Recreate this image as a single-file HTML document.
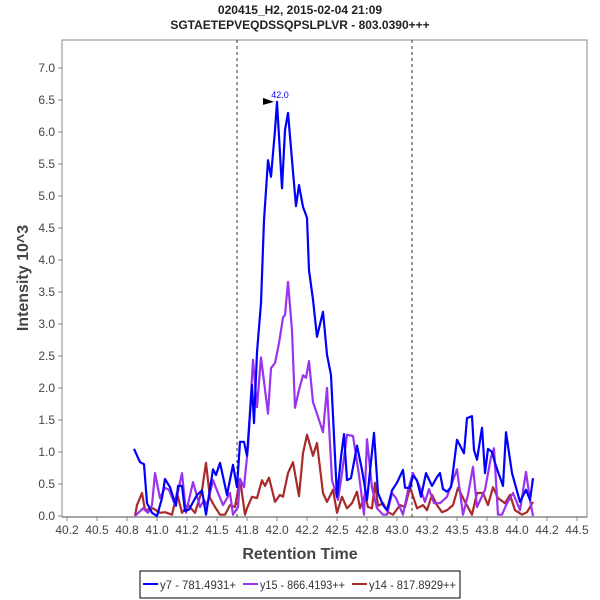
<!DOCTYPE html>
<html><head><meta charset="utf-8"><style>
body{margin:0;background:#fff;}
svg{display:block;font-family:"Liberation Sans",sans-serif;}
</style></head><body>
<svg id="chart" width="600" height="600">
<text x="300" y="14" text-anchor="middle" font-size="12" font-weight="bold" fill="#222">020415_H2, 2015-02-04 21:09</text>
<text x="300" y="29" text-anchor="middle" font-size="12" font-weight="bold" fill="#222">SGTAETEPVEQDSSQPSLPLVR - 803.0390+++</text>
<rect x="62" y="40" width="525" height="477" fill="#fff" stroke="#888"/>
<g id="axes"></g>
<g id="series"></g>
<text x="300" y="559" text-anchor="middle" font-size="16" font-weight="bold" fill="#444">Retention Time</text>
<text transform="translate(28,278) rotate(-90)" text-anchor="middle" font-size="16" font-weight="bold" fill="#444">Intensity 10^3</text>
<g>
<rect x="140" y="571" width="320" height="27" fill="#fff" stroke="#000" stroke-width="1"/>
<g><line x1="143" y1="584" x2="158" y2="584" stroke="#0000ff" stroke-width="2"/><text x="160" y="589" font-size="12" fill="#333" textLength="76" lengthAdjust="spacingAndGlyphs">y7 - 781.4931+</text></g>
<g><line x1="243" y1="584" x2="258" y2="584" stroke="#9933ee" stroke-width="2"/><text x="260" y="589" font-size="12" fill="#333" textLength="85" lengthAdjust="spacingAndGlyphs">y15 - 866.4193++</text></g>
<g><line x1="352" y1="584" x2="367" y2="584" stroke="#aa2a2a" stroke-width="2"/><text x="369" y="589" font-size="12" fill="#333" textLength="87" lengthAdjust="spacingAndGlyphs">y14 - 817.8929++</text></g>
</g>
</svg>
<script>
const xTicks=[40.25,40.5,40.75,41.0,41.25,41.5,41.75,42.0,42.25,42.5,42.75,43.0,43.25,43.5,43.75,44.0,44.25,44.5];
const xTickLabels=["40.2","40.5","40.8","41.0","41.2","41.5","41.8","42.0","42.2","42.5","42.8","43.0","43.2","43.5","43.8","44.0","44.2","44.5"];
const yTicks=[0,0.5,1,1.5,2,2.5,3,3.5,4,4.5,5,5.5,6,6.5,7];
const yTickLabels=["0.0","0.5","1.0","1.5","2.0","2.5","3.0","3.5","4.0","4.5","5.0","5.5","6.0","6.5","7.0"];
const boundaryTimes=[41.667,43.125];
const peakTime=42.0;
const peakLabel="42.0";
const y7Times=[40.808,40.858,40.892,40.917,40.958,41.0,41.042,41.067,41.108,41.158,41.175,41.208,41.233,41.267,41.333,41.375,41.408,41.467,41.492,41.525,41.583,41.633,41.667,41.692,41.725,41.75,41.792,41.808,41.833,41.867,41.892,41.925,41.95,41.983,42.0,42.042,42.067,42.092,42.133,42.158,42.183,42.217,42.25,42.267,42.3,42.333,42.383,42.417,42.45,42.5,42.533,42.558,42.583,42.617,42.667,42.708,42.75,42.808,42.842,42.883,42.917,42.958,43.0,43.05,43.067,43.108,43.133,43.167,43.2,43.242,43.292,43.333,43.358,43.383,43.417,43.45,43.5,43.558,43.583,43.625,43.642,43.667,43.708,43.733,43.758,43.792,43.817,43.842,43.883,43.908,43.958,44.025,44.075,44.108,44.133];
const y7Values=[1.05,0.84,0.81,0.2,0.05,0.0,0.28,0.58,0.45,0.16,0.47,0.47,0.08,0.1,0.33,0.4,0.02,0.73,0.64,0.83,0.33,0.8,0.45,1.16,1.16,0.94,2.05,1.45,2.56,3.33,4.62,5.56,5.3,6.03,6.47,5.12,6.03,6.3,5.38,4.84,5.17,4.83,4.66,3.84,3.38,2.8,3.19,2.52,2.2,0.3,0.92,1.28,0.56,0.59,1.1,0.72,0.25,1.3,0.36,0.17,0.09,0.4,0.52,0.72,0.44,0.44,0.63,0.56,0.3,0.67,0.47,0.61,0.67,0.42,0.38,0.45,1.19,0.98,1.53,1.56,1.03,0.88,1.38,0.67,1.05,1.0,0.83,0.69,0.47,1.31,0.67,0.22,0.41,0.25,0.59];
const y15Times=[40.817,40.883,40.925,40.958,40.983,41.025,41.067,41.1,41.15,41.208,41.242,41.3,41.358,41.392,41.417,41.467,41.508,41.55,41.608,41.633,41.675,41.692,41.725,41.758,41.8,41.833,41.867,41.925,41.95,41.983,42.017,42.05,42.067,42.092,42.125,42.15,42.183,42.217,42.242,42.267,42.3,42.342,42.383,42.417,42.458,42.508,42.542,42.583,42.633,42.683,42.725,42.75,42.792,42.833,42.883,42.917,42.958,42.992,43.05,43.092,43.133,43.183,43.233,43.267,43.308,43.358,43.417,43.467,43.5,43.55,43.592,43.633,43.667,43.733,43.783,43.808,43.842,43.875,43.917,43.967,44.025,44.075,44.108,44.133];
const y15Values=[0.0,0.12,0.05,0.17,0.67,0.28,0.44,0.41,0.17,0.67,0.05,0.53,0.14,0.25,0.17,0.56,0.36,0.17,0.36,0.02,0.14,0.58,0.45,1.08,2.44,1.7,2.48,1.6,2.31,2.39,2.7,3.1,3.14,3.66,2.9,1.69,1.97,2.2,2.16,2.42,1.78,1.55,1.31,2.0,0.56,0.25,0.67,1.27,1.25,0.64,0.02,1.2,0.44,0.12,0.02,0.02,0.36,0.28,0.02,0.41,0.67,0.48,0.22,0.42,0.2,0.2,0.3,0.56,0.73,0.02,0.33,0.77,0.14,0.41,0.92,1.06,0.02,0.02,0.2,0.36,0.09,0.69,0.25,0.0];
const y14Times=[40.817,40.833,40.875,40.9,40.967,41.025,41.067,41.125,41.167,41.208,41.258,41.317,41.375,41.408,41.442,41.483,41.525,41.567,41.608,41.65,41.692,41.733,41.75,41.792,41.833,41.875,41.9,41.933,41.983,42.025,42.05,42.092,42.133,42.183,42.217,42.25,42.3,42.333,42.383,42.417,42.467,42.5,42.542,42.583,42.625,42.667,42.692,42.733,42.758,42.792,42.817,42.842,42.883,42.925,42.967,43.025,43.067,43.108,43.167,43.217,43.25,43.292,43.333,43.375,43.417,43.467,43.508,43.567,43.625,43.667,43.717,43.758,43.8,43.842,43.9,43.942,43.983,44.042,44.083,44.133];
const y14Values=[0,0.17,0.36,0.09,0.12,0.05,0.06,0.02,0.36,0.05,0.17,0.05,0.4,0.83,0.28,0.14,0.02,0.02,0.17,0.14,0.58,0.02,0.12,0.3,0.28,0.56,0.47,0.6,0.22,0.33,0.3,0.67,0.84,0.31,0.98,1.27,0.94,1.14,0.36,0.22,0.41,0.05,0.3,0.12,0.2,0.38,0.12,0.33,0.14,0.12,0.52,0.16,0.2,0.06,0.02,0.17,0.14,0.45,0.12,0.17,0.09,0.33,0.17,0.06,0.09,0.17,0.44,0.22,0.02,0.36,0.36,0.17,0.45,0.28,0.2,0.33,0.09,0.02,0.06,0.22];

const NS="http://www.w3.org/2000/svg";
function xs(t){return 67+(t-40.25)*120;}
function ys(v){return 516-v*64;}
function mk(tag,attrs,parent){const e=document.createElementNS(NS,tag);for(const k in attrs)e.setAttribute(k,attrs[k]);parent.appendChild(e);return e;}
const axes=document.getElementById('axes');
const xAxis=mk('line',{x1:62,y1:517,x2:587,y2:517,stroke:'#888','stroke-width':1.5},axes);


const yAxis=mk('line',{x1:62,y1:40,x2:62,y2:517,stroke:'#888','stroke-width':1},axes);


xTicks.forEach((t,i)=>{
  const x=xs(t);
  mk('line',{x1:x,y1:517,x2:x,y2:521,stroke:'#888'},axes);
  const tx=mk('text',{x:x,y:534,'text-anchor':'middle','font-size':12,fill:'#444'},axes);
  tx.textContent=xTickLabels[i];
  
  
});
yTicks.forEach((v,i)=>{
  const y=ys(v);
  mk('line',{x1:58,y1:y,x2:62,y2:y,stroke:'#888'},axes);
  const tx=mk('text',{x:55,y:y+4,'text-anchor':'end','font-size':12,fill:'#444'},axes);
  tx.textContent=yTickLabels[i];
  
  
});
boundaryTimes.forEach(t=>{
  const l=mk('line',{x1:xs(t),y1:40,x2:xs(t),y2:517,stroke:'#333','stroke-dasharray':'3,3'},axes);
  
  
});
const ser=document.getElementById('series');
function draw(times,vals,color,name){
  const pts=times.map((t,i)=>xs(t).toFixed(1)+','+ys(vals[i]).toFixed(1)).join(' ');
  const p=mk('polyline',{points:pts,fill:'none',stroke:color,'stroke-width':2.2,'stroke-linejoin':'round'},ser);
  
  
}
draw(y14Times,y14Values,'#aa2a2a','series-y14');
draw(y15Times,y15Values,'#9933ee','series-y15');
draw(y7Times,y7Values,'#0000ff','series-y7');
const pi=y7Times.indexOf(peakTime);
const px=xs(peakTime),py=ys(y7Values[pi]);
const arrow=mk('polygon',{points:(px-14)+','+(py-4)+' '+(px-3)+','+(py)+' '+(px-14)+','+(py+3),fill:'#000'},ser);


const pl=mk('text',{x:px+3,y:py-4,'text-anchor':'middle','font-size':9,fill:'#0000ff'},ser);
pl.textContent=peakLabel;


</script>
</body></html>
